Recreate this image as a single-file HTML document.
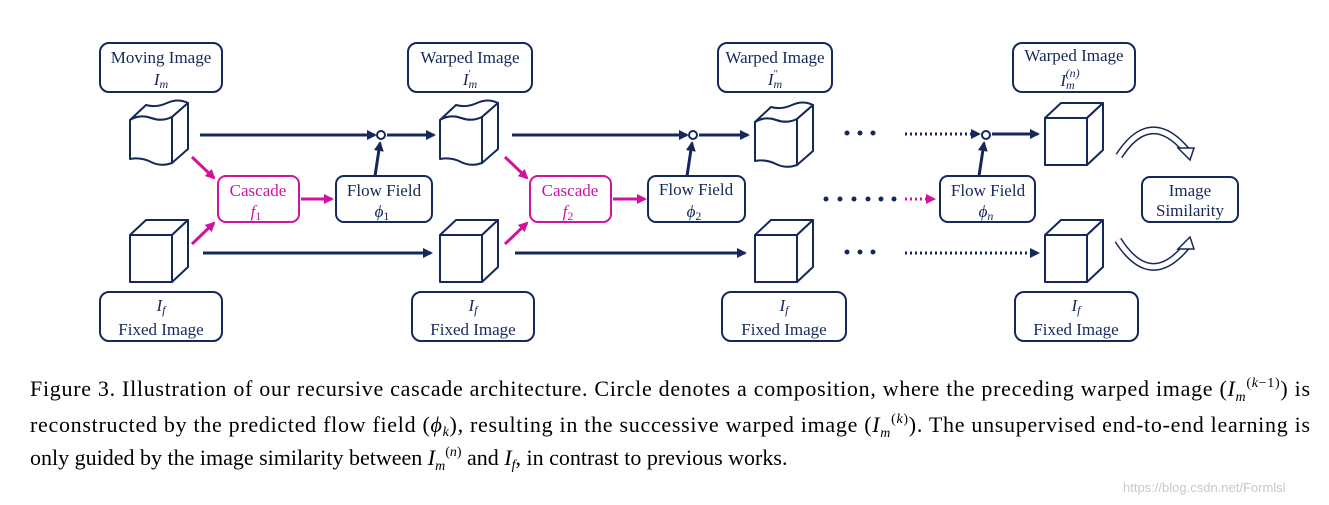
<!DOCTYPE html>
<html><head><meta charset="utf-8"><style>
html,body{margin:0;padding:0;background:#fff;}
svg{display:block;}
.bx{fill:#fff;stroke:#15285a;stroke-width:2;}
.pk{fill:#fff;stroke:#d0139f;stroke-width:2;}
.t{font-family:"Liberation Serif",serif;font-size:17px;fill:#15285a;text-anchor:middle;}
.tp{font-family:"Liberation Serif",serif;font-size:17px;fill:#d0139f;text-anchor:middle;}
.i{font-style:italic;}
.c{fill:#fff;stroke:#15285a;stroke-width:2;stroke-linejoin:round;}
.ln{stroke:#15285a;stroke-width:3;fill:none;}
.lp{stroke:#d0139f;stroke-width:3;fill:none;}
.cap{font-family:"Liberation Serif",serif;font-size:22px;fill:#000;}
</style></head><body>
<svg width="1329" height="505" viewBox="0 0 1329 505" xmlns="http://www.w3.org/2000/svg">
<defs>
<marker id="an" markerWidth="10" markerHeight="10" refX="8" refY="5" orient="auto" markerUnits="userSpaceOnUse"><path d="M0,0 L10,5 L0,10 Z" fill="#15285a"/></marker>
<marker id="ap" markerWidth="10" markerHeight="10" refX="8" refY="5" orient="auto" markerUnits="userSpaceOnUse"><path d="M0,0 L10,5 L0,10 Z" fill="#d0139f"/></marker>
</defs>

<rect class="bx" x="100" y="43" width="122" height="49" rx="9"/>
<text class="t" x="161" y="63">Moving Image</text><text class="t i" x="161" y="85">I<tspan font-size="12" dy="3">m</tspan></text>
<rect class="bx" x="408" y="43" width="124" height="49" rx="9"/>
<text class="t" x="470" y="63">Warped Image</text><text class="t i" x="470" y="85">I<tspan font-size="12" dy="3">m</tspan><tspan font-size="10" dx="-9" dy="-11">′</tspan></text>
<rect class="bx" x="718" y="43" width="114" height="49" rx="9"/>
<text class="t" x="775" y="63">Warped Image</text><text class="t i" x="775" y="85">I<tspan font-size="12" dy="3">m</tspan><tspan font-size="10" dx="-9" dy="-11">″</tspan></text>
<rect class="bx" x="1013" y="43" width="122" height="49" rx="9"/>
<text class="t" x="1074" y="61">Warped Image</text><text class="t i" x="1070" y="86">I<tspan font-size="12" dy="3">m</tspan><tspan font-size="12" dx="-9" dy="-12">(n)</tspan></text>

<rect class="bx" x="100" y="292" width="122" height="49" rx="9"/>
<text class="t i" x="161" y="311">I<tspan font-size="12" dy="3">f</tspan></text><text class="t" x="161" y="335">Fixed Image</text>
<rect class="bx" x="412" y="292" width="122" height="49" rx="9"/>
<text class="t i" x="473" y="311">I<tspan font-size="12" dy="3">f</tspan></text><text class="t" x="473" y="335">Fixed Image</text>
<rect class="bx" x="722" y="292" width="124" height="49" rx="9"/>
<text class="t i" x="784" y="311">I<tspan font-size="12" dy="3">f</tspan></text><text class="t" x="784" y="335">Fixed Image</text>
<rect class="bx" x="1015" y="292" width="123" height="49" rx="9"/>
<text class="t i" x="1076" y="311">I<tspan font-size="12" dy="3">f</tspan></text><text class="t" x="1076" y="335">Fixed Image</text>

<rect class="pk" x="218" y="176" width="81" height="46" rx="8"/>
<text class="tp" x="258" y="196">Cascade</text><text class="tp i" x="256" y="217">f<tspan font-size="12" font-style="normal" dy="3">1</tspan></text>
<rect class="bx" x="336" y="176" width="96" height="46" rx="8"/>
<text class="t" x="384" y="196">Flow Field</text><text class="t i" x="382" y="217">ϕ<tspan font-size="12" font-style="normal" dy="3">1</tspan></text>
<rect class="pk" x="530" y="176" width="81" height="46" rx="8"/>
<text class="tp" x="570" y="196">Cascade</text><text class="tp i" x="568" y="217">f<tspan font-size="12" font-style="normal" dy="3">2</tspan></text>
<rect class="bx" x="648" y="176" width="97" height="46" rx="8"/>
<text class="t" x="696" y="195">Flow Field</text><text class="t i" x="694" y="217">ϕ<tspan font-size="12" font-style="normal" dy="3">2</tspan></text>
<rect class="bx" x="940" y="176" width="95" height="46" rx="8"/>
<text class="t" x="988" y="196">Flow Field</text><text class="t i" x="986" y="217">ϕ<tspan font-size="12" dy="3">n</tspan></text>
<rect class="bx" x="1142" y="177" width="96" height="45" rx="8"/>
<text class="t" x="1190" y="196">Image</text><text class="t" x="1190" y="216">Similarity</text>

<g transform="translate(130,105)">
<path class="c" d="M0,15 Q10,9 21,13 T42,12 L58,-2 Q48,-7 37,-2 T16,0 Z"/>
<path class="c" d="M42,12 L58,-2 L58,44 L42,58 Z"/>
<path class="c" d="M0,15 Q10,9 21,13 T42,12 L42,58 Q31,62 21,57 T0,54 Z"/>
</g>
<g transform="translate(440,105)">
<path class="c" d="M0,15 Q10,9 21,13 T42,12 L58,-2 Q48,-7 37,-2 T16,0 Z"/>
<path class="c" d="M42,12 L58,-2 L58,44 L42,58 Z"/>
<path class="c" d="M0,15 Q10,9 21,13 T42,12 L42,58 Q31,62 21,57 T0,54 Z"/>
</g>
<g transform="translate(755,107)">
<path class="c" d="M0,15 Q10,9 21,13 T42,12 L58,-2 Q48,-7 37,-2 T16,0 Z"/>
<path class="c" d="M42,12 L58,-2 L58,44 L42,58 Z"/>
<path class="c" d="M0,15 Q10,9 21,13 T42,12 L42,58 Q31,62 21,57 T0,54 Z"/>
</g>
<g transform="translate(1045,103)">
<path class="c" d="M0,15 L16,0 L58,0 L42,15 Z"/><path class="c" d="M42,15 L58,0 L58,47 L42,62 Z"/><rect class="c" x="0" y="15" width="42" height="47"/>
</g>
<g transform="translate(130,220)">
<path class="c" d="M0,15 L16,0 L58,0 L42,15 Z"/><path class="c" d="M42,15 L58,0 L58,47 L42,62 Z"/><rect class="c" x="0" y="15" width="42" height="47"/>
</g>
<g transform="translate(440,220)">
<path class="c" d="M0,15 L16,0 L58,0 L42,15 Z"/><path class="c" d="M42,15 L58,0 L58,47 L42,62 Z"/><rect class="c" x="0" y="15" width="42" height="47"/>
</g>
<g transform="translate(755,220)">
<path class="c" d="M0,15 L16,0 L58,0 L42,15 Z"/><path class="c" d="M42,15 L58,0 L58,47 L42,62 Z"/><rect class="c" x="0" y="15" width="42" height="47"/>
</g>
<g transform="translate(1045,220)">
<path class="c" d="M0,15 L16,0 L58,0 L42,15 Z"/><path class="c" d="M42,15 L58,0 L58,47 L42,62 Z"/><rect class="c" x="0" y="15" width="42" height="47"/>
</g>

<line class="ln" x1="200" y1="135" x2="375" y2="135" marker-end="url(#an)"/>
<circle cx="381" cy="135" r="4" fill="#fff" stroke="#15285a" stroke-width="2"/>
<line class="ln" x1="387" y1="135" x2="434" y2="135" marker-end="url(#an)"/>
<line class="ln" x1="512" y1="135" x2="687" y2="135" marker-end="url(#an)"/>
<circle cx="693" cy="135" r="4" fill="#fff" stroke="#15285a" stroke-width="2"/>
<line class="ln" x1="699" y1="135" x2="748" y2="135" marker-end="url(#an)"/>
<line class="ln" x1="905" y1="134" x2="979" y2="134" stroke-dasharray="2,3" marker-end="url(#an)"/>
<circle cx="986" cy="135" r="4" fill="#fff" stroke="#15285a" stroke-width="2"/>
<line class="ln" x1="992" y1="134" x2="1038" y2="134" marker-end="url(#an)"/>
<line class="ln" x1="375" y1="176" x2="380" y2="143" marker-end="url(#an)"/>
<line class="ln" x1="687" y1="176" x2="692" y2="143" marker-end="url(#an)"/>
<line class="ln" x1="979" y1="176" x2="984" y2="143" marker-end="url(#an)"/>
<line class="ln" x1="203" y1="253" x2="431" y2="253" marker-end="url(#an)"/>
<line class="ln" x1="515" y1="253" x2="745" y2="253" marker-end="url(#an)"/>
<line class="ln" x1="905" y1="253" x2="1038" y2="253" stroke-dasharray="2,3" marker-end="url(#an)"/>
<g fill="#15285a">
<circle cx="847" cy="133" r="2.5"/><circle cx="860" cy="133" r="2.5"/><circle cx="873" cy="133" r="2.5"/>
<circle cx="847" cy="252" r="2.5"/><circle cx="860" cy="252" r="2.5"/><circle cx="873" cy="252" r="2.5"/>
<circle cx="826" cy="199" r="2.5"/><circle cx="840" cy="199" r="2.5"/><circle cx="854" cy="199" r="2.5"/>
<circle cx="868" cy="199" r="2.5"/><circle cx="881" cy="199" r="2.5"/><circle cx="894" cy="199" r="2.5"/>
</g>
<line class="lp" x1="905" y1="199" x2="934" y2="199" stroke-dasharray="2,3" marker-end="url(#ap)"/>
<line class="lp" x1="192" y1="157" x2="214" y2="178" marker-end="url(#ap)"/>
<line class="lp" x1="192" y1="244" x2="214" y2="223" marker-end="url(#ap)"/>
<line class="lp" x1="301" y1="199" x2="332" y2="199" marker-end="url(#ap)"/>
<line class="lp" x1="505" y1="157" x2="527" y2="178" marker-end="url(#ap)"/>
<line class="lp" x1="505" y1="244" x2="527" y2="223" marker-end="url(#ap)"/>
<line class="lp" x1="613" y1="199" x2="645" y2="199" marker-end="url(#ap)"/>
<path d="M1119,156 Q1150,108 1186,150" fill="none" stroke="#15285a" stroke-width="8"/>
<path d="M1119,156 Q1150,108 1186,150" fill="none" stroke="#fff" stroke-width="5"/>
<path d="M1178,148 L1194,148 L1190,160 Z" fill="#fff" stroke="#15285a" stroke-width="1.5"/>
<path d="M1118,240 Q1150,290 1186,247" fill="none" stroke="#15285a" stroke-width="8"/>
<path d="M1118,240 Q1150,290 1186,247" fill="none" stroke="#fff" stroke-width="5"/>
<path d="M1178,249 L1194,249 L1190,237 Z" fill="#fff" stroke="#15285a" stroke-width="1.5"/>

<text class="cap" x="30" y="396" textLength="1280" lengthAdjust="spacing">Figure 3. Illustration of our recursive cascade architecture.  Circle denotes a composition, where the preceding warped image (<tspan font-style="italic">I</tspan><tspan font-size="14" font-style="italic" dy="5">m</tspan><tspan font-size="14" dy="-14">(<tspan font-style="italic">k</tspan>−1)</tspan><tspan dy="9">) is</tspan></text>
<text class="cap" x="30" y="432" textLength="1280" lengthAdjust="spacing">reconstructed by the predicted flow field (<tspan font-style="italic">ϕ</tspan><tspan font-size="14" font-style="italic" dy="4">k</tspan><tspan dy="-4">), resulting in the successive warped image (</tspan><tspan font-style="italic">I</tspan><tspan font-size="14" font-style="italic" dy="5">m</tspan><tspan font-size="14" dy="-14">(<tspan font-style="italic">k</tspan>)</tspan><tspan dy="9">).  The unsupervised end-to-end learning is</tspan></text>
<text class="cap" x="30" y="465">only guided by the image similarity between <tspan font-style="italic">I</tspan><tspan font-size="14" font-style="italic" dy="5">m</tspan><tspan font-size="14" dy="-14">(<tspan font-style="italic">n</tspan>)</tspan><tspan dy="9"> and </tspan><tspan font-style="italic">I</tspan><tspan font-size="14" font-style="italic" dy="4">f</tspan><tspan dy="-4">, in contrast to previous works.</tspan></text>
<text x="1123" y="492" font-family="Liberation Sans,sans-serif" font-size="13" fill="#c8c8c8">https://blog.csdn.net/Formlsl</text>
</svg>
</body></html>
